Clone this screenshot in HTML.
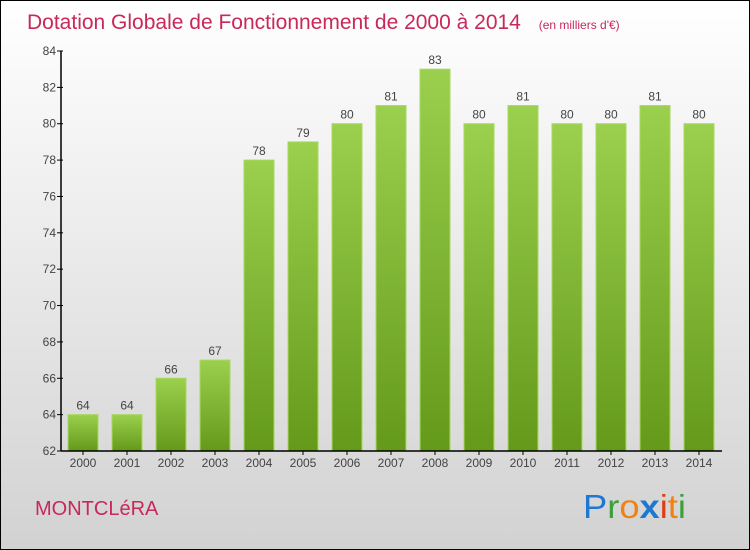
<!DOCTYPE html>
<html><head><meta charset="utf-8"><style>
body{margin:0}
#c{width:748px;height:548px;border:1px solid #000;background:linear-gradient(#ffffff,#d2d2d2);position:relative;font-family:"Liberation Sans",sans-serif;overflow:hidden}
</style></head><body>
<div id="c">
<svg width="748" height="548" id="svg">
<defs><linearGradient id="g" x1="0" y1="0" x2="0" y2="1"><stop offset="0" stop-color="#9bd04e"/><stop offset="1" stop-color="#64991a"/></linearGradient></defs>
<text x="26" y="28" font-size="21" fill="#c8285a">Dotation Globale de Fonctionnement de 2000 à 2014 <tspan font-size="12" dx="12">(en milliers d'€)</tspan></text>
<text x="34" y="514" font-size="20" fill="#c8285a">MONTCLéRA</text>
<g font-size="33" font-family="'Liberation Sans',sans-serif">
<text x="582" y="517" textLength="103" lengthAdjust="spacingAndGlyphs"><tspan fill="#1e78d2">P</tspan><tspan fill="#3ca03c">r</tspan><tspan fill="#f08214">o</tspan><tspan fill="#1e78d2" font-weight="bold">x</tspan><tspan fill="#e03c14">i</tspan><tspan fill="#f08214">t</tspan><tspan fill="#3ca03c">i</tspan></text>
</g>
<g id="plot"></g>
</svg>
</div>
<script>
const years=["2000","2001","2002","2003","2004","2005","2006","2007","2008","2009","2010","2011","2012","2013","2014"];
const values=[64,64,66,67,78,79,80,81,83,80,81,80,80,81,80];
const yTicks=[62,64,66,68,70,72,74,76,78,80,82,84];
const NS="http://www.w3.org/2000/svg";
const plot=document.getElementById('plot');
const y=v=>450-(v-62)*400/22;
const x=i=>67+i*44;
function mk(t,a,txt){const e=document.createElementNS(NS,t);for(const k in a)e.setAttribute(k,a[k]);if(txt!==undefined)e.textContent=txt;plot.appendChild(e);return e;}
values.forEach((v,i)=>{
 const b=mk('rect',{x:x(i),y:y(v),width:30,height:450-y(v),fill:'url(#g)',stroke:'#a8d860','stroke-width':1});
 
 
 const l=mk('text',{x:x(i)+15,y:y(v)-5,'text-anchor':'middle','font-size':12,fill:'#444'},v);
 
 
 const t=mk('text',{x:x(i)+15,y:466,'text-anchor':'middle','font-size':12,fill:'#444'},years[i]);
 
 
 mk('line',{x1:x(i)+15,x2:x(i)+15,y1:450,y2:454,stroke:'#000'});
});
yTicks.forEach(v=>{
 const t=mk('text',{x:55,y:y(v)+4,'text-anchor':'end','font-size':12,fill:'#444'},v);
 
 
 mk('line',{x1:56,x2:62,y1:y(v),y2:y(v),stroke:'#000'});
});
const ya=mk('line',{x1:60,x2:60,y1:50,y2:450,stroke:'#000','stroke-width':1.5});


const xa=mk('line',{x1:60,x2:721,y1:450,y2:450,stroke:'#000','stroke-width':1.5});


</script>
</body></html>
